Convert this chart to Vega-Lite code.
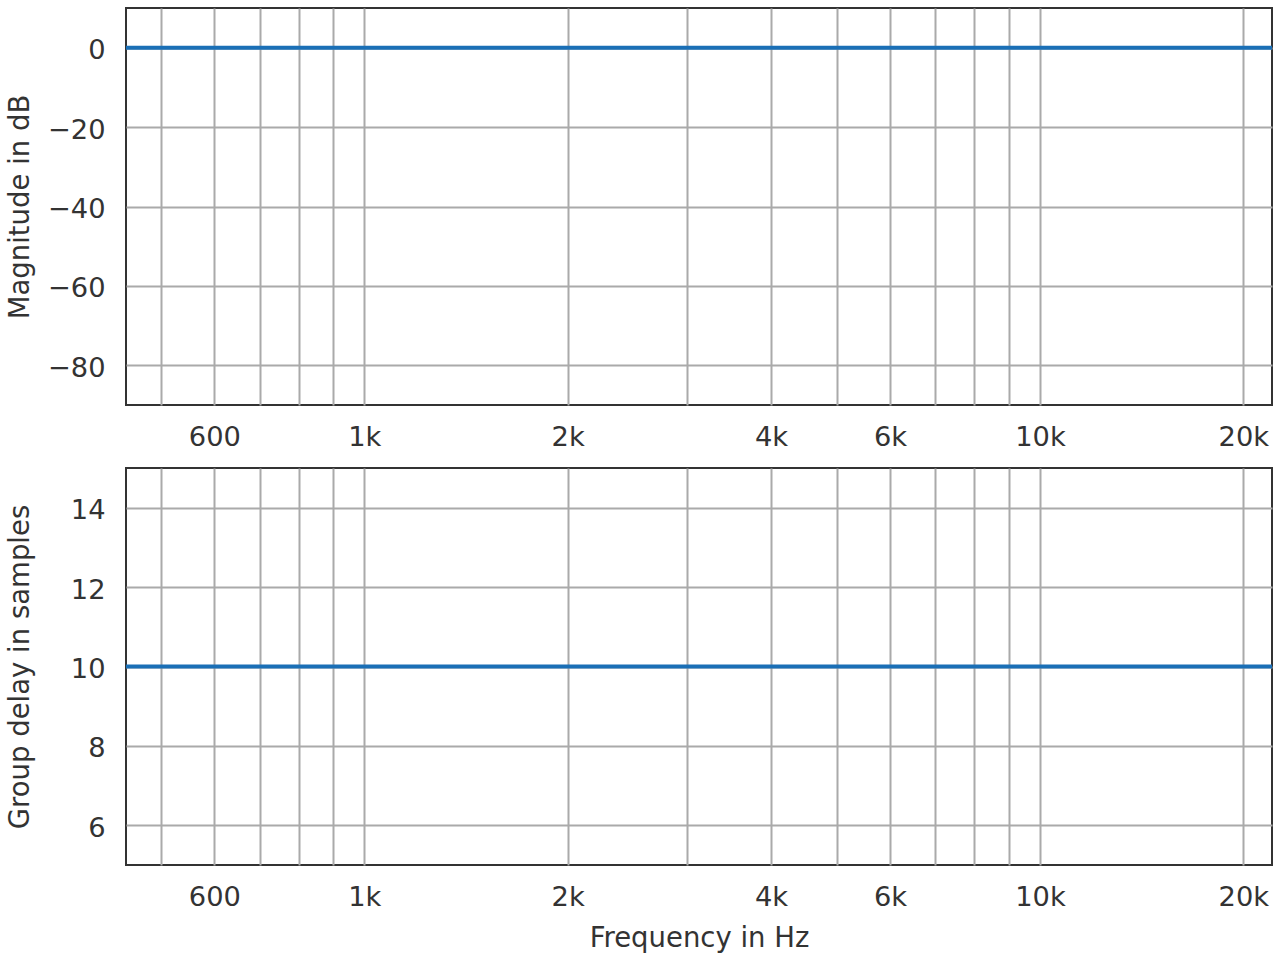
{
  "$schema": "https://vega.github.io/schema/vega-lite/v6.json",
  "background": "white",
  "padding": {"left": 4, "top": 7, "right": 8, "bottom": 5},
  "spacing": 63,
  "bounds": "flush",
  "config": {
    "font": "DejaVu Sans",
    "view": {"stroke": "#333333", "strokeWidth": 2},
    "axis": {
      "labelFont": "DejaVu Sans",
      "titleFont": "DejaVu Sans",
      "labelFontSize": 27.3,
      "titleFontSize": 27.5,
      "labelColor": "#333333",
      "titleColor": "#333333",
      "titleFontWeight": "normal",
      "gridColor": "#aaaaaa",
      "gridWidth": 2,
      "gridOpacity": 1,
      "domain": false,
      "ticks": false,
      "tickSize": 0,
      "labelOverlap": false,
      "labelFlush": false
    }
  },
  "datasets": {
    "mag": [
      {"freq": 444, "db": 0},
      {"freq": 1000, "db": 0},
      {"freq": 10000, "db": 0},
      {"freq": 22050, "db": 0}
    ],
    "gd": [
      {"freq": 444, "samples": 10},
      {"freq": 1000, "samples": 10},
      {"freq": 10000, "samples": 10},
      {"freq": 22050, "samples": 10}
    ]
  },
  "vconcat": [
    {
      "width": 1146,
      "height": 397,
      "data": {"name": "mag"},
      "mark": {"type": "line", "color": "#1a6fb6", "strokeWidth": 4, "clip": true},
      "encoding": {
        "x": {
          "field": "freq",
          "type": "quantitative",
          "scale": {"type": "log", "domain": [444, 22050], "nice": false},
          "axis": {
            "title": null,
            "values": [500, 600, 700, 800, 900, 1000, 2000, 3000, 4000, 5000, 6000, 7000, 8000, 9000, 10000, 20000],
            "labelExpr": "indexof([600,1000,2000,4000,6000,10000,20000], datum.value) >= 0 ? (datum.value >= 1000 ? (datum.value/1000) + 'k' : datum.value + '') : ''",
            "labelBaseline": "alphabetic",
            "labelPadding": 40.5
          }
        },
        "y": {
          "field": "db",
          "type": "quantitative",
          "scale": {"domain": [-90, 10], "nice": false, "zero": false},
          "axis": {
            "title": "Magnitude in dB",
            "values": [-80, -60, -40, -20, 0],
            "titleX": -98,
            "titleBaseline": "alphabetic",
            "labelBaseline": "alphabetic",
            "labelOffset": 11,
            "labelPadding": 21
          }
        }
      }
    },
    {
      "width": 1146,
      "height": 397,
      "data": {"name": "gd"},
      "mark": {"type": "line", "color": "#1a6fb6", "strokeWidth": 4, "clip": true},
      "encoding": {
        "x": {
          "field": "freq",
          "type": "quantitative",
          "scale": {"type": "log", "domain": [444, 22050], "nice": false},
          "axis": {
            "title": "Frequency in Hz",
            "values": [500, 600, 700, 800, 900, 1000, 2000, 3000, 4000, 5000, 6000, 7000, 8000, 9000, 10000, 20000],
            "labelExpr": "indexof([600,1000,2000,4000,6000,10000,20000], datum.value) >= 0 ? (datum.value >= 1000 ? (datum.value/1000) + 'k' : datum.value + '') : ''",
            "labelBaseline": "alphabetic",
            "labelPadding": 40.5,
            "titleY": 81,
            "titleBaseline": "alphabetic"
          }
        },
        "y": {
          "field": "samples",
          "type": "quantitative",
          "scale": {"domain": [5, 15], "nice": false, "zero": false},
          "axis": {
            "title": "Group delay in samples",
            "values": [6, 8, 10, 12, 14],
            "titleX": -98,
            "titleBaseline": "alphabetic",
            "labelBaseline": "alphabetic",
            "labelOffset": 11,
            "labelPadding": 21
          }
        }
      }
    }
  ]
}
